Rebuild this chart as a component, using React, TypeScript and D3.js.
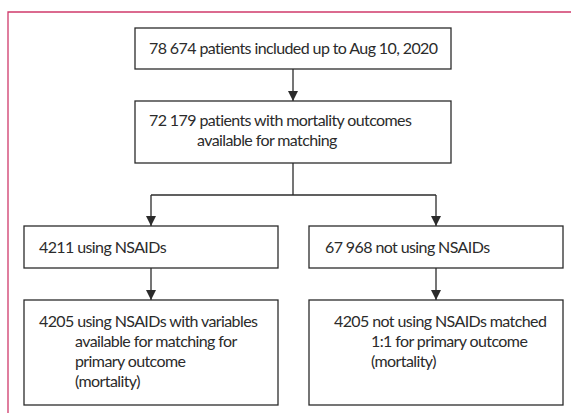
import { useRef, useEffect } from 'react';
import * as d3 from 'd3';

// box texts (first line, then hanging-indented continuation lines)
const topLines = ['78 674 patients included up to Aug 10, 2020'];
const pooledLines = ['72 179 patients with mortality outcomes', 'available for matching'];
const nsaidLines = ['4211 using NSAIDs'];
const noNsaidLines = ['67 968 not using NSAIDs'];
const nsaidMatchedLines = [
  '4205 using NSAIDs with variables',
  'available for matching for',
  'primary outcome',
  '(mortality)',
];
const noNsaidMatchedLines = [
  '4205 not using NSAIDs matched',
  '1:1 for primary outcome',
  '(mortality)',
];

const W = 571;
const H = 413;
const FONT = 'Lato, "Open Sans", sans-serif';
const INK = '#2b2b2b';

interface Box {
  x: number; y: number; w: number; h: number;
  lines: string[];
  padX: number; firstY: number; indent: number;
}

export default function App() {
  const svgRef = useRef<SVGSVGElement | null>(null);

  useEffect(() => {
    const svg = d3.select(svgRef.current);
    svg.selectAll('*').remove();

    const defs = svg.append('defs');
    defs.append('marker')
      .attr('id', 'arrow')
      .attr('viewBox', '0 0 10 10')
      .attr('refX', 10)
      .attr('refY', 5)
      .attr('markerWidth', 10)
      .attr('markerHeight', 10)
      .attr('markerUnits', 'userSpaceOnUse')
      .attr('orient', 'auto')
      .append('path')
      .attr('d', 'M0,0 L10,5 L0,10 Z')
      .attr('fill', INK);

    // pink frame
    svg.append('path')
      .attr('d', `M8,${H} L8,12 L${W},12`)
      .attr('fill', 'none')
      .attr('stroke', '#cf3a6b')
      .attr('stroke-width', 1.3);

    const boxes: Box[] = [
      { x: 135, y: 28, w: 316, h: 41, lines: topLines, padX: 14, firstY: 26, indent: 0 },
      { x: 135, y: 101, w: 316, h: 62, lines: pooledLines, padX: 14, firstY: 25, indent: 48 },
      { x: 24, y: 226, w: 254, h: 42, lines: nsaidLines, padX: 15, firstY: 27, indent: 0 },
      { x: 309, y: 226, w: 254, h: 42, lines: noNsaidLines, padX: 16, firstY: 27, indent: 0 },
      { x: 24, y: 300, w: 254, h: 105, lines: nsaidMatchedLines, padX: 15, firstY: 27, indent: 36 },
      { x: 309, y: 300, w: 254, h: 105, lines: noNsaidMatchedLines, padX: 25, firstY: 27, indent: 37 },
    ];
    const lineGap = 20;

    const g = svg.append('g');
    boxes.forEach((b) => {
      g.append('rect')
        .attr('x', b.x)
        .attr('y', b.y)
        .attr('width', b.w)
        .attr('height', b.h)
        .attr('fill', 'white')
        .attr('stroke', INK)
        .attr('stroke-width', 1.3);
      const t = g.append('text')
        .attr('font-family', FONT)
        .attr('font-size', 16)
        .attr('letter-spacing', -0.6)
        .attr('fill', INK);
      b.lines.forEach((line, i) => {
        t.append('tspan')
          .attr('x', b.x + b.padX + (i > 0 ? b.indent : 0))
          .attr('y', b.y + b.firstY + i * lineGap)
          .text(line);
      });
    });

    const cx = (b: Box) => b.x + b.w / 2;
    const bottom = (b: Box) => b.y + b.h;
    const link = d3.line<[number, number]>();
    const arrows: [number, number][][] = [
      [[cx(boxes[0]), bottom(boxes[0])], [cx(boxes[0]), boxes[1].y]],
      [[cx(boxes[2]), 195], [cx(boxes[2]), boxes[2].y]],
      [[cx(boxes[3]), 195], [cx(boxes[3]), boxes[3].y]],
      [[cx(boxes[2]), bottom(boxes[2])], [cx(boxes[2]), boxes[4].y]],
      [[cx(boxes[3]), bottom(boxes[3])], [cx(boxes[3]), boxes[5].y]],
    ];
    arrows.forEach((pts) => {
      g.append('path')
        .attr('d', link(pts))
        .attr('stroke', INK)
        .attr('stroke-width', 1.3)
        .attr('fill', 'none')
        .attr('marker-end', 'url(#arrow)');
    });
    // split connector
    g.append('path')
      .attr('d', link([[cx(boxes[1]), bottom(boxes[1])], [cx(boxes[1]), 195]]))
      .attr('stroke', INK)
      .attr('stroke-width', 1.3)
      .attr('fill', 'none');
    g.append('path')
      .attr('d', link([[cx(boxes[2]), 195], [cx(boxes[3]), 195]]))
      .attr('stroke', INK)
      .attr('stroke-width', 1.3)
      .attr('fill', 'none');
  }, []);

  return (
    <svg
      ref={svgRef}
      width={W}
      height={H}
      style={{ position: 'absolute', left: 0, top: 0, background: 'white' }}
    />
  );
}
